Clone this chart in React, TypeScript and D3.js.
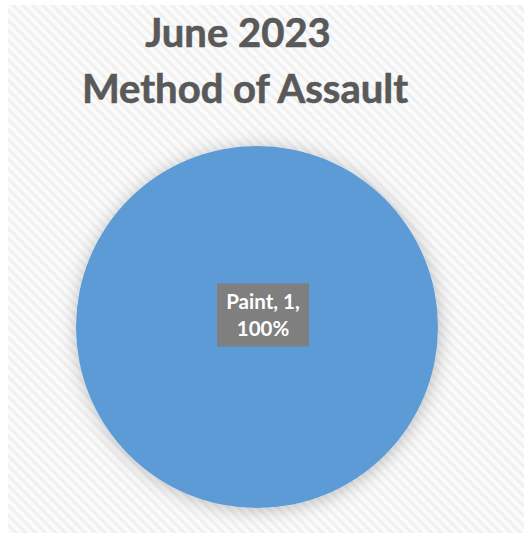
import React, { useEffect, useRef } from "react"
import * as d3 from "d3"

const titleLines = ["June 2023", "Method of Assault"]
const categories = ["Paint"]
const counts = [1]
const colors = ["#5B9BD5"]

export default function App() {
  const svgRef = useRef<SVGSVGElement>(null)

  useEffect(() => {
    if (!svgRef.current) return
    const svg = d3.select(svgRef.current)
    svg.selectAll("*").remove()

    const W = 524
    const H = 535
    const font = "Lato, 'Open Sans', sans-serif"

    const defs = svg.append("defs")
    const pat = defs.append("pattern")
      .attr("id", "stripes")
      .attr("patternUnits", "userSpaceOnUse")
      .attr("width", 7)
      .attr("height", 7)
      .attr("patternTransform", "rotate(45)")
    pat.append("rect").attr("width", 7).attr("height", 7).attr("fill", "#fbfbfb")
    pat.append("rect").attr("width", 7).attr("height", 3).attr("fill", "#f0f0f0")

    const shadow = defs.append("filter")
      .attr("id", "glow")
      .attr("x", "-20%").attr("y", "-20%")
      .attr("width", "140%").attr("height", "140%")
    shadow.append("feDropShadow")
      .attr("dx", 1).attr("dy", 2)
      .attr("stdDeviation", 9)
      .attr("flood-color", "#000")
      .attr("flood-opacity", 0.25)

    svg.append("rect").attr("width", W).attr("height", H).attr("fill", "#fff")
    svg.append("rect")
      .attr("x", 8).attr("y", 5)
      .attr("width", W - 8).attr("height", H - 7)
      .attr("fill", "url(#stripes)")

    // title
    svg.append("text")
      .attr("text-anchor", "middle")
      .attr("font-family", font)
      .attr("font-weight", 700)
      .attr("font-size", 40)
      .attr("fill", "#595959")
      .attr("stroke", "#595959")
      .attr("stroke-width", 0.6)
      .selectAll("tspan")
      .data(titleLines)
      .enter().append("tspan")
      .attr("x", (_, i) => (i === 0 ? 238 : 245))
      .attr("y", (_, i) => 47 + i * 56)
      .text(d => d)

    const cx = 257
    const cy = 327
    const r = 181

    const data = categories.map((c, i) => ({ label: c, value: counts[i], color: colors[i] }))
    const total = d3.sum(counts)
    const pie = d3.pie<any>().value(d => d.value).sort(null)
    const arc = d3.arc<any>().innerRadius(0).outerRadius(r)

    const g = svg.append("g").attr("transform", `translate(${cx},${cy})`)
    g.selectAll("path.slice")
      .data(pie(data))
      .enter().append("path")
      .attr("class", "slice")
      .attr("d", arc)
      .attr("fill", d => d.data.color)
      .attr("filter", "url(#glow)")

    // data labels
    pie(data).forEach(d => {
      const [lx, ly] = d.endAngle - d.startAngle >= 2 * Math.PI - 1e-6 ? [6, -12] : arc.centroid(d)
      const pct = d3.format(".0%")(d.data.value / total)
      const lines = [`${d.data.label}, ${d.data.value},`, pct]
      const bw = 92
      const bh = 63
      const lg = g.append("g").attr("transform", `translate(${lx},${ly})`)
      lg.append("rect")
        .attr("x", -bw / 2).attr("y", -bh / 2)
        .attr("width", bw).attr("height", bh)
        .attr("fill", "#7f7f7f")
      lg.append("text")
        .attr("text-anchor", "middle")
        .attr("font-family", font)
        .attr("font-weight", 700)
        .attr("font-size", 20.5)
        .attr("fill", "#fff")
        .selectAll("tspan")
        .data(lines)
        .enter().append("tspan")
        .attr("x", 0)
        .attr("y", (_, i) => -6 + i * 27)
        .text(t => t)
    })
  }, [])

  return (
    <svg
      ref={svgRef}
      width={524}
      height={535}
      style={{ position: "absolute", left: 0, top: 0, display: "block" }}
    />
  )
}
